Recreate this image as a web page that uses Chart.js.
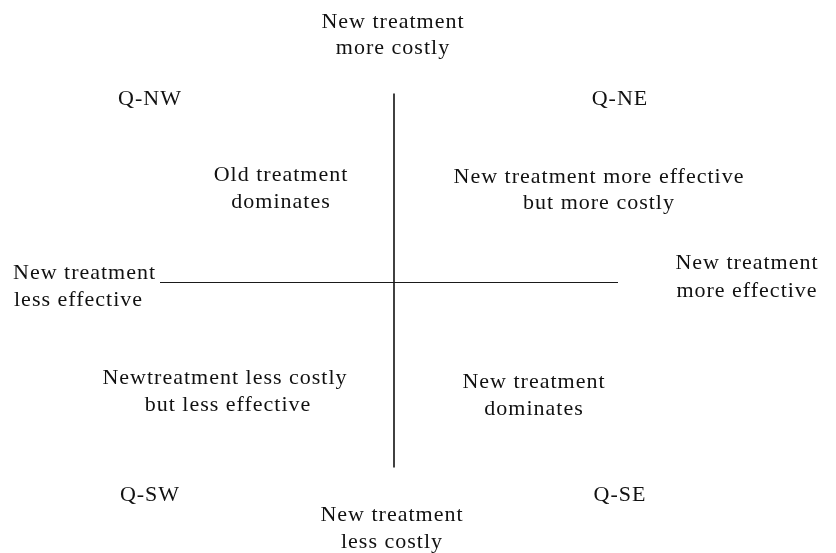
<!DOCTYPE html>
<html>
<head>
<meta charset="utf-8">
<script src="https://cdn.jsdelivr.net/npm/chart.js@4/dist/chart.umd.min.js"></script>
<style>
  html, body { margin: 0; padding: 0; background: #ffffff; }
  #wrap { width: 836px; height: 553px; position: relative; }
</style>
</head>
<body>
<div id="wrap"><canvas id="c"></canvas></div>
<script>
// Cost-effectiveness plane: origin = old treatment.
// x: difference in effectiveness, y: difference in cost (arbitrary units)
const effectAxisX = [-2.34, 2.24];   // horizontal axis extent
const effectAxisY = [0, 0];
const costAxisX = [0, 0];
const costAxisY = [-1.85, 1.89];     // vertical axis extent

// Text labels (each entry = one line of text), placement in plane units
const labelText = [
  "New treatment", "more costly",
  "Q-NW", "Q-NE",
  "Old treatment", "dominates",
  "New treatment more effective", "but more costly",
  "New treatment", "less effective",
  "New treatment", "more effective",
  "Newtreatment less costly", "but less effective",
  "New treatment", "dominates",
  "Q-SW", "Q-SE",
  "New treatment", "less costly"
];
const labelX = [
  -0.01, -0.01,
  -2.44, 2.26,
  -1.13, -1.13,
  2.05, 2.05,
  -3.81, -3.80,
  3.53, 3.53,
  -1.69, -1.66,
  1.40, 1.40,
  -2.44, 2.26,
  -0.02, -0.02
];
const labelY = [
  2.55, 2.29,
  1.78, 1.78,
  1.02, 0.75,
  1.00, 0.74,
  0.04, -0.23,
  0.14, -0.14,
  -1.01, -1.28,
  -1.05, -1.32,
  -2.18, -2.18,
  -2.38, -2.65
];
const labelAlign = [
  "center","center","center","center","center","center","center","center",
  "left","left","center","center","center","center","center","center",
  "center","center","center","center"
];

const labelPlugin = {
  id: 'planeLabels',
  afterDatasetsDraw(chart) {
    const ctx = chart.ctx;
    const xs = chart.scales.x, ys = chart.scales.y;
    ctx.save();
    ctx.fillStyle = '#111111';
    ctx.font = '22px "Liberation Serif", "Times New Roman", serif';
    try { ctx.letterSpacing = '1px'; } catch (e) {}
    ctx.textBaseline = 'alphabetic';
    for (let i = 0; i < labelText.length; i++) {
      ctx.textAlign = labelAlign[i];
      ctx.fillText(labelText[i], xs.getPixelForValue(labelX[i]), ys.getPixelForValue(labelY[i]));
    }
    ctx.restore();
  }
};

const toPts = (xa, ya) => xa.map((v, i) => ({ x: v, y: ya[i] }));

new Chart(document.getElementById('c'), {
  type: 'scatter',
  data: {
    datasets: [
      { data: toPts(effectAxisX, effectAxisY), showLine: true, pointRadius: 0,
        borderColor: '#1a1a1a', borderWidth: 1, fill: false },
      { data: toPts(costAxisX, costAxisY), showLine: true, pointRadius: 0,
        borderColor: '#111111', borderWidth: 1.6, fill: false }
    ]
  },
  options: {
    responsive: true,
    maintainAspectRatio: false,
    animation: false,
    layout: { padding: 0 },
    plugins: { legend: { display: false }, tooltip: { enabled: false } },
    scales: {
      x: { type: 'linear', min: -3.94, max: 4.42, display: false },
      y: { type: 'linear', min: -2.705, max: 2.825, display: false }
    }
  },
  plugins: [labelPlugin]
});
</script>
</body>
</html>
